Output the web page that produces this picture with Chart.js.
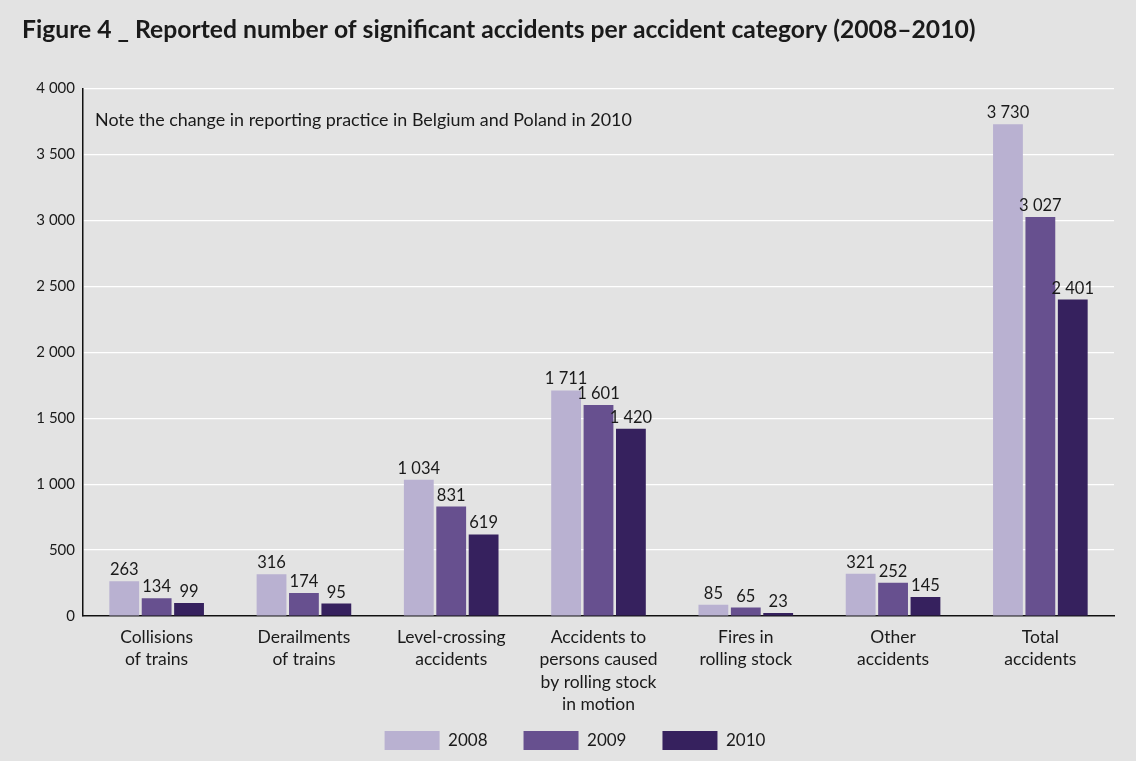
<!DOCTYPE html>
<html>
<head>
<meta charset="utf-8">
<script src="https://cdn.jsdelivr.net/npm/chart.js@4/dist/chart.umd.min.js"></script>
<style>
  html, body { margin: 0; padding: 0; background: #e3e3e3; }
  #wrap { width: 1136px; height: 761px; position: relative; }
</style>
</head>
<body>
<div id="wrap"><canvas id="accidents-chart"></canvas></div>
<script>
// values
var categories = [
    ['Collisions', 'of trains'],
    ['Derailments', 'of trains'],
    ['Level-crossing', 'accidents'],
    ['Accidents to', 'persons caused', 'by rolling stock', 'in motion'],
    ['Fires in', 'rolling stock'],
    ['Other', 'accidents'],
    ['Total', 'accidents']
];
var years = ['2008', '2009', '2010'];
var values2008 = [263, 316, 1034, 1711, 85, 321, 3730];
var values2009 = [134, 174, 831, 1601, 65, 252, 3027];
var values2010 = [99, 95, 619, 1420, 23, 145, 2401];
var yTicks = [0, 500, 1000, 1500, 2000, 2500, 3000, 3500, 4000];
var note = 'Note the change in reporting practice in Belgium and Poland in 2010';

var FONT = 'Lato, "Open Sans", sans-serif';

function spaced(v) {
    return String(v).replace(/\B(?=(\d{3})+(?!\d))/g, ' ');
}

var bgPlugin = {
    id: 'bg',
    beforeDraw: function(chart) {
        var c = chart.ctx;
        c.save();
        c.fillStyle = '#e3e3e3';
        c.fillRect(0, 0, chart.width, chart.height);
        c.restore();
    }
};

// legend keeps wide item spacing but takes less height, so it sits close under the axis labels
var legendFitPlugin = {
    id: 'legendFit',
    beforeLayout: function(chart) {
        var lg = chart.legend;
        if (lg && !lg._fitWrapped) {
            var origFit = lg.fit;
            lg.fit = function() {
                origFit.call(this);
                this.height = 45;
            };
            lg._fitWrapped = true;
        }
    },
    afterLayout: function(chart) {
        if (chart.legend) {
            chart.legend.top -= 21;
            chart.legend.left += 14;
        }
    }
};

var labelPlugin = {
    id: 'valueLabels',
    afterDatasetsDraw: function(chart) {
        var c = chart.ctx;
        c.save();
        c.font = '16.5px ' + FONT;
        c.fillStyle = '#1a1a1a';
        c.textAlign = 'center';
        c.textBaseline = 'bottom';
        chart.data.datasets.forEach(function(ds, i) {
            chart.getDatasetMeta(i).data.forEach(function(bar, j) {
                c.fillText(spaced(ds.data[j]), bar.x, bar.y - 3);
            });
        });
        // note in the top left of the plot
        c.textAlign = 'left';
        c.textBaseline = 'middle';
        c.font = '17.9px ' + FONT;
        c.fillText(note, chart.chartArea.left + 12, chart.chartArea.top + 32);
        c.restore();
    }
};

new Chart(document.getElementById('accidents-chart').getContext('2d'), {
    type: 'bar',
    data: {
        labels: categories,
        datasets: [
            { label: years[0], data: values2008, backgroundColor: '#b9b1d1' },
            { label: years[1], data: values2009, backgroundColor: '#67508f' },
            { label: years[2], data: values2010, backgroundColor: '#36215e' }
        ]
    },
    options: {
        responsive: true,
        maintainAspectRatio: false,
        animation: false,
        devicePixelRatio: 1,
        layout: { padding: { left: 22, right: 22, bottom: 0 } },
        datasets: {
            bar: { categoryPercentage: 0.66, barPercentage: 0.92 }
        },
        scales: {
            x: {
                offset: true,
                afterFit: function(scale) { scale.height = 100; },
                border: { display: true, color: '#111', width: 1.5 },
                grid: {
                    drawTicks: false,
                    color: function(ctx) {
                        return ctx.index === categories.length ? '#ffffff' : 'rgba(0,0,0,0)';
                    }
                },
                ticks: {
                    color: '#1a1a1a',
                    font: { family: FONT, size: 17.5, lineHeight: 1.28 },
                    padding: 10,
                    maxRotation: 0,
                    autoSkip: false
                }
            },
            y: {
                min: 0,
                max: 4000,
                afterBuildTicks: function(scale) {
                    scale.ticks = yTicks.map(function(v) { return { value: v }; });
                },
                afterFit: function(scale) { scale.width = 61; },
                border: { display: true, color: '#111', width: 1.5 },
                grid: { color: '#ffffff', lineWidth: 1.2, drawTicks: false },
                ticks: {
                    color: '#1a1a1a',
                    font: { family: FONT, size: 15 },
                    padding: 8,
                    callback: function(v) { return spaced(v); }
                }
            }
        },
        plugins: {
            title: {
                display: true,
                text: 'Figure 4 _ Reported number of significant accidents per accident category (2008\u20132010)',
                align: 'start',
                color: '#1a1a1a',
                font: { family: FONT, size: 24.7, weight: 'bold' },
                padding: { top: 15, bottom: 44 }
            },
            legend: {
                position: 'bottom',
                labels: {
                    color: '#1a1a1a',
                    font: { family: FONT, size: 17 },
                    boxWidth: 55,
                    boxHeight: 19,
                    padding: 36
                }
            },
            tooltip: { enabled: false }
        }
    },
    plugins: [bgPlugin, legendFitPlugin, labelPlugin]
});
</script>
</body>
</html>
